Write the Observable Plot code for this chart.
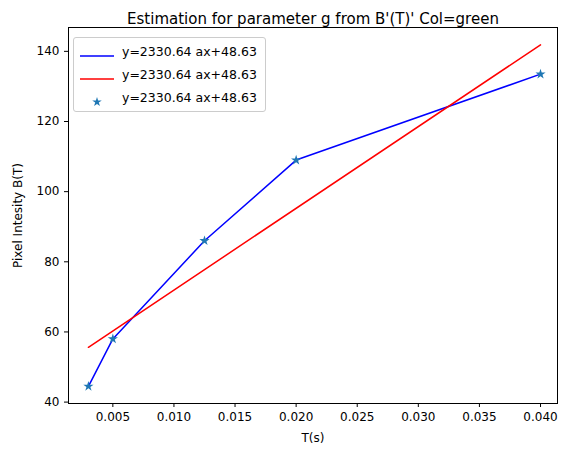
<!DOCTYPE html>
<html><head>
<meta charset="utf-8">
<script src="https://cdn.jsdelivr.net/npm/d3@7"></script>
<script src="https://cdn.jsdelivr.net/npm/@observablehq/plot@0.6"></script>
<style>
body{margin:0;background:#fff;font-family:"DejaVu Sans",sans-serif}
#wrap{position:relative;width:575px;height:455px}
#legend{position:absolute;left:73px;top:37px;border:1px solid #ccc;border-radius:3px;background:rgba(255,255,255,0.8);padding:2px 8px 2px 6px;font-size:12.5px;line-height:23px}
.it{display:flex;align-items:center}
.sw{width:34px;height:12px;margin-right:8px;position:relative}
</style>
</head><body>
<div id="wrap"><div id="legend"></div></div>
<script>
const T = [0.003, 0.005, 0.0125, 0.02, 0.04];
const B = [44.5, 58, 86, 109, 133.5];
const slope = 2330.64, intercept = 48.63;
const labelText = "y=2330.64 ax+48.63";
const xTicks = [0.005,0.010,0.015,0.020,0.025,0.030,0.035,0.040];
const yTicks = [40,60,80,100,120,140];

const pts = T.map((t,i)=>({t, b:B[i]}));
const fit = [T[0], T[T.length-1]].map(t=>({t, b: slope*t+intercept}));

const chart = Plot.plot({
  width:575, height:455,
  marginLeft:68, marginRight:18, marginTop:27, marginBottom:52,
  style:{fontFamily:"DejaVu Sans", fontSize:"12px", color:"#000"},
  x:{domain:[0.00137,0.04139], ticks:xTicks, tickFormat:d=>d.toFixed(3), label:"T(s)", labelArrow:"none", labelAnchor:"center", labelOffset:38, tickSize:4},
  y:{domain:[39.6,146.8], ticks:yTicks, label:"Pixel Intesity B(T)", labelArrow:"none", labelAnchor:"center", labelOffset:55, tickSize:4},
  marks:[
    Plot.frame({stroke:"#000"}),
    Plot.line(pts,{x:"t",y:"b",stroke:"blue",strokeWidth:1.5}),
    Plot.line(fit,{x:"t",y:"b",stroke:"red",strokeWidth:1.5}),
    Plot.dot(pts,{x:"t",y:"b",symbol:"star",fill:"#1f77b4",r:3.2}),
    Plot.text(["Estimation for parameter g from B'(T)' Col=green"],{frameAnchor:"top",dy:-14,fontSize:15})
  ]
});
document.getElementById("wrap").prepend(chart);

const leg = document.getElementById("legend");
[["line","blue"],["line","red"],["star","#1f77b4"]].forEach(([k,c])=>{
  const d=document.createElement("div");d.className="it";
  const s=document.createElement("div");s.className="sw";
  if(k==="line"){s.innerHTML=`<svg width="34" height="12"><line x1="0" x2="34" y1="6" y2="6" stroke="${c}" stroke-width="1.5"/></svg>`;}
  else{s.innerHTML=`<svg width="34" height="12"><path transform="translate(17,6)" d="${d3.symbol(d3.symbolStar,28)()}" fill="${c}"/></svg>`;}
  d.appendChild(s);
  const tx=document.createElement("span");tx.textContent=labelText;d.appendChild(tx);
  leg.appendChild(d);
});
</script>
</body></html>
